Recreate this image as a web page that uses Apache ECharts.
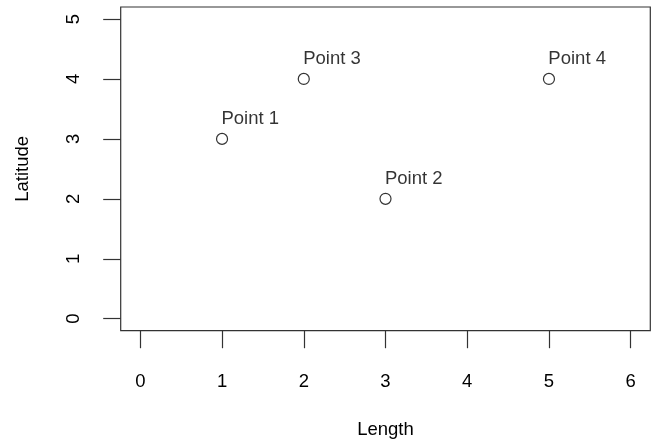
<!DOCTYPE html>
<html>
<head>
<meta charset="utf-8">
<script src="https://cdn.jsdelivr.net/npm/echarts@6/dist/echarts.min.js"></script>
<style>
html,body{margin:0;padding:0;background:#fff;}
#chart{width:651px;height:442px;}
</style>
</head>
<body>
<div id="chart"></div>
<script>
var pointNames = ['Point 1', 'Point 2', 'Point 3', 'Point 4'];
var lengthValues = [1, 3, 2, 5];
var latitudeValues = [3, 2, 4, 4];
var xTicks = [0, 1, 2, 3, 4, 5, 6];
var yTicks = [0, 1, 2, 3, 4, 5];

var FONT = '"Liberation Sans", Arial, Helvetica, sans-serif';
var FS = 18.5;
var data = pointNames.map(function (n, i) {
  return { name: n, value: [lengthValues[i], latitudeValues[i]] };
});

var chart = echarts.init(document.getElementById('chart'));
chart.setOption({
  animation: false,
  backgroundColor: '#fff',
  grid: {
    left: 120.7, right: 0.7, top: 7, bottom: 111.3,
    outerBoundsMode: 'none', containLabel: false,
    show: true, borderColor: '#333', borderWidth: 1.2, backgroundColor: 'transparent'
  },
  xAxis: {
    type: 'value', min: -0.24, max: 6.24,
    splitLine: { show: false },
    axisLine: { show: false, onZero: false },
    axisTick: { show: true, customValues: xTicks, length: 17.5, inside: false, lineStyle: { color: '#333', width: 1.2 } },
    axisLabel: { customValues: xTicks, margin: 42, color: '#000', fontSize: FS, fontFamily: FONT },
    name: 'Length', nameLocation: 'middle', nameGap: 90,
    nameTextStyle: { color: '#000', fontSize: FS, fontFamily: FONT }
  },
  yAxis: {
    type: 'value', min: -0.2, max: 5.2,
    splitLine: { show: false },
    axisLine: { show: false, onZero: false },
    axisTick: { show: true, customValues: yTicks, length: 17.5, inside: false, lineStyle: { color: '#333', width: 1.2 } },
    axisLabel: { customValues: yTicks, margin: 37, rotate: 90, color: '#000', fontSize: FS, fontFamily: FONT },
    name: 'Latitude', nameLocation: 'middle', nameGap: 88,
    nameTextStyle: { color: '#000', fontSize: FS, fontFamily: FONT }
  },
  series: [{
    type: 'scatter',
    data: data,
    symbol: 'circle',
    symbolSize: 11,
    itemStyle: { color: '#fff', borderColor: '#000', borderWidth: 1.2 },
    label: {
      show: true,
      formatter: '{b}',
      position: [5.5, -14],
      align: 'left',
      verticalAlign: 'middle',
      color: '#000',
      fontSize: FS,
      fontFamily: FONT
    },
    emphasis: { disabled: true }
  }]
});
</script>
</body>
</html>
